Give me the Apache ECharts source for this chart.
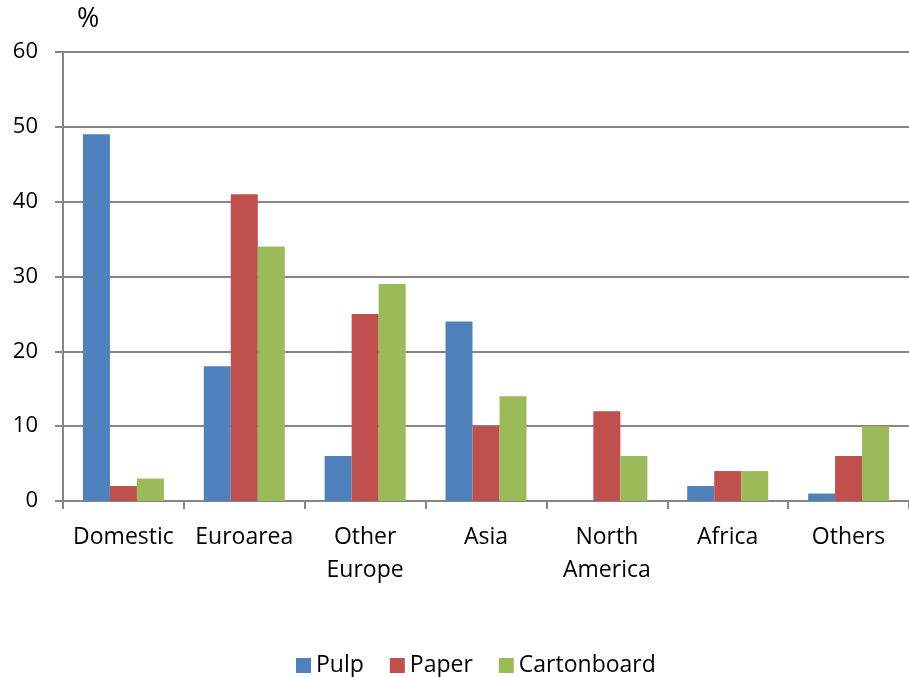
<!DOCTYPE html>
<html><head><meta charset="utf-8">
<script src="https://cdn.jsdelivr.net/npm/echarts@6/dist/echarts.min.js"></script>
<style>html,body{margin:0;padding:0;background:#fff}#c{width:909px;height:677px}</style>
</head><body><div id="c"></div>
<script>
const categories = ['Domestic', 'Euroarea', 'Other\nEurope', 'Asia', 'North\nAmerica', 'Africa', 'Others'];
const pulp = [49, 18, 6, 24, 0, 2, 1];
const paper = [2, 41, 25, 10, 12, 4, 6];
const cartonboard = [3, 34, 29, 14, 6, 4, 10];
const yTicks = [0, 10, 20, 30, 40, 50, 60];
const unitLabel = '%';

const font = 'Open Sans, Lato, sans-serif';
const chart = echarts.init(document.getElementById('c'), null, {renderer: 'canvas'});
const barStyle = (c) => ({type: 'bar', barWidth: 27, barGap: '0%', itemStyle: {color: c}});
chart.setOption({
  animation: false,
  title: {text: unitLabel, left: 77, top: 6, padding: 0, textStyle: {fontFamily: font, fontSize: 27, fontWeight: 'normal', color: '#000'}},
  grid: {left: 63, top: 52, width: 857, bottom: 176, containLabel: false},
  legend: {
    top: 654, left: 296, itemWidth: 15, itemHeight: 15, itemGap: 26, padding: 0,
    icon: 'rect',
    textStyle: {fontFamily: font, fontSize: 23, color: '#000'},
    data: ['Pulp', 'Paper', 'Cartonboard']
  },
  xAxis: {
    type: 'category', data: categories,
    axisLine: {lineStyle: {color: '#868686', width: 2}},
    axisTick: {show: true, length: 8, alignWithLabel: false, lineStyle: {color: '#868686', width: 2}},
    axisLabel: {fontFamily: font, fontSize: 23, color: '#000', margin: 20, lineHeight: 33, interval: 0}
  },
  yAxis: {
    type: 'value', min: yTicks[0], max: yTicks[yTicks.length - 1], interval: 10,
    axisLine: {show: true, lineStyle: {color: '#868686', width: 2}},
    axisTick: {show: true, length: 8, lineStyle: {color: '#868686', width: 2}},
    splitLine: {lineStyle: {color: '#868686', width: 2}},
    axisLabel: {fontFamily: font, fontSize: 22, color: '#000', margin: 25}
  },
  series: [
    Object.assign({name: 'Pulp', data: pulp}, barStyle('#4F81BD')),
    Object.assign({name: 'Paper', data: paper}, barStyle('#C0504D')),
    Object.assign({name: 'Cartonboard', data: cartonboard}, barStyle('#9BBB59'))
  ]
});
</script></body></html>
